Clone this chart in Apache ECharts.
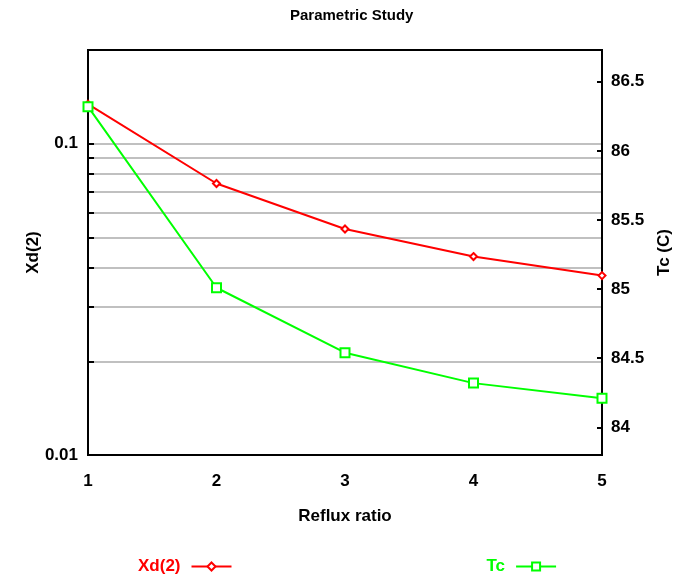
<!DOCTYPE html>
<html>
<head>
<meta charset="utf-8">
<script src="https://cdn.jsdelivr.net/npm/echarts@6/dist/echarts.min.js"></script>
<style>
  html, body { margin: 0; padding: 0; background: #ffffff; }
  #chart { width: 678px; height: 575px; }
</style>
</head>
<body>
<div id="chart"></div>
<script>
// Reflux ratio sweep: distillate composition (log scale) and condenser temperature
const refluxRatio = [1, 2, 3, 4, 5];
const xd2 = [0.134, 0.0745, 0.0532, 0.0434, 0.0377];
const tc = [86.32, 85.01, 84.54, 84.32, 84.21];

const xdGridValues = [0.01, 0.02, 0.03, 0.04, 0.05, 0.06, 0.07, 0.08, 0.09, 0.1];
const xdLabelValues = [0.01, 0.1];
const tcTickValues = [84, 84.5, 85, 85.5, 86, 86.5];

const FONT = 'Liberation Sans, Arial, sans-serif';
const RED = '#ff0000';
const GREEN = '#00ff00';

const chart = echarts.init(document.getElementById('chart'), null, { renderer: 'canvas' });

chart.setOption({
  animation: false,
  backgroundColor: '#ffffff',
  textStyle: { fontFamily: FONT },
  title: {
    text: 'Parametric Study',
    left: 285,
    top: 3,
    textStyle: { fontFamily: FONT, fontSize: 15, fontWeight: 'bold', color: '#000' }
  },
  grid: {
    left: 88, right: 76, top: 50, bottom: 120,
    outerBoundsMode: 'none',
    containLabel: false,
    show: true, borderColor: '#000', borderWidth: 2, backgroundColor: 'transparent'
  },
  legend: {
    top: 553,
    left: 133,
    align: 'right',
    itemWidth: 40,
    itemHeight: 10,
    itemGap: 254,
    textStyle: { fontFamily: FONT, fontSize: 17, fontWeight: 'bold', padding: [0, 6, 0, 0] },
    data: [
      { name: 'Xd(2)', textStyle: { color: RED } },
      { name: 'Tc', textStyle: { color: GREEN } }
    ]
  },
  xAxis: {
    type: 'value',
    min: 1, max: 5, interval: 1,
    name: 'Reflux ratio',
    nameLocation: 'middle',
    nameGap: 53,
    nameMoveOverlap: false,
    nameTextStyle: { fontFamily: FONT, fontSize: 17, fontWeight: 'bold', color: '#000' },
    axisLine: { lineStyle: { color: '#000', width: 2 } },
    axisTick: { show: false },
    axisLabel: { margin: 18, fontFamily: FONT, fontSize: 17, fontWeight: 'bold', color: '#000' },
    splitLine: { show: false }
  },
  yAxis: [
    {
      type: 'log',
      logBase: 10,
      min: 0.01, max: 0.2,
      position: 'left',
      name: 'Xd(2)',
      nameLocation: 'middle',
      nameGap: 46,
      nameMoveOverlap: false,
      nameTextStyle: { fontFamily: FONT, fontSize: 17, fontWeight: 'bold', color: '#000' },
      axisLine: { show: true, lineStyle: { color: '#000', width: 2 } },
      axisTick: { show: true, inside: true, length: 6, customValues: xdGridValues, lineStyle: { color: '#000', width: 2 } },
      axisLabel: {
        customValues: xdLabelValues,
        margin: 10,
        fontFamily: FONT, fontSize: 17, fontWeight: 'bold', color: '#000',
        formatter: v => String(v)
      },
      splitLine: { show: true, lineStyle: { color: '#c0c0c0', width: 2 } }
    },
    {
      type: 'value',
      min: 83.8, max: 86.73,
      position: 'right',
      name: 'Tc (C)',
      nameLocation: 'middle',
      nameGap: 54,
      nameMoveOverlap: false,
      nameTextStyle: { fontFamily: FONT, fontSize: 17, fontWeight: 'bold', color: '#000' },
      axisLine: { show: true, lineStyle: { color: '#000', width: 2 } },
      axisTick: { show: true, inside: true, length: 5, customValues: tcTickValues, lineStyle: { color: '#000', width: 2 } },
      axisLabel: {
        customValues: tcTickValues,
        margin: 9,
        fontFamily: FONT, fontSize: 17, fontWeight: 'bold', color: '#000'
      },
      splitLine: { show: false }
    }
  ],
  series: [
    {
      name: 'Xd(2)',
      type: 'line',
      yAxisIndex: 0,
      data: refluxRatio.map((r, i) => [r, xd2[i]]),
      symbol: 'emptyDiamond',
      symbolSize: 7,
      lineStyle: { color: RED, width: 2 },
      itemStyle: { color: RED, borderColor: RED, borderWidth: 1 },
      z: 3
    },
    {
      name: 'Tc',
      type: 'line',
      yAxisIndex: 1,
      data: refluxRatio.map((r, i) => [r, tc[i]]),
      symbol: 'emptyRect',
      symbolSize: 9,
      lineStyle: { color: GREEN, width: 2 },
      itemStyle: { color: GREEN, borderColor: GREEN, borderWidth: 1 },
      z: 3
    }
  ]
});
</script>
</body>
</html>
